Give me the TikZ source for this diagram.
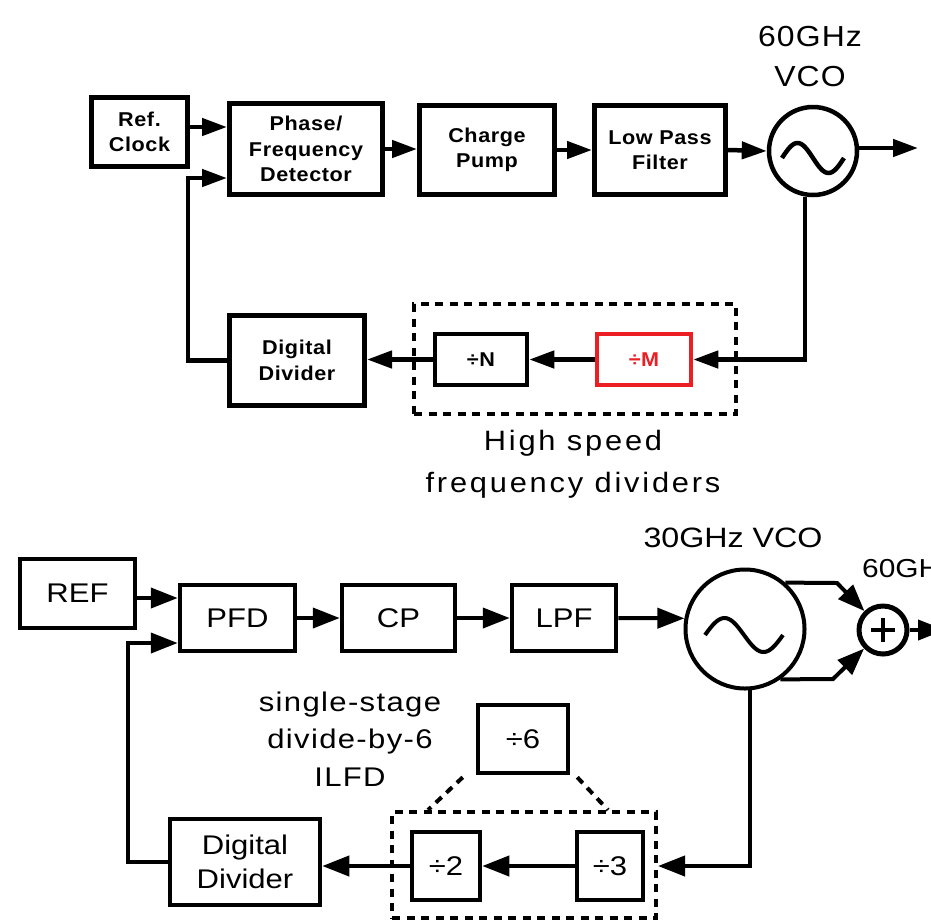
\documentclass[tikz,border=0pt]{standalone}
\usepackage{fontspec}
\setmainfont{Liberation Sans}
\newfontfamily\tfont[FakeStretch=1.08,LetterSpace=3]{Liberation Sans}
\newfontfamily\lfont[FakeStretch=1.1,LetterSpace=10]{Liberation Sans}
\newfontfamily\vfont[FakeStretch=1.1,LetterSpace=4]{Liberation Sans}
\newfontfamily\bfont[FakeStretch=1.15]{Liberation Sans}
\newfontfamily\sfont[FakeStretch=1.15,LetterSpace=5]{Liberation Sans}
\usetikzlibrary{arrows.meta,calc}
\definecolor{dred}{RGB}{235,30,35}
\begin{document}
\begin{tikzpicture}[x=1pt,y=-1pt,
  tbox/.style={draw, line width=5pt, inner sep=0pt, align=center,
    font=\tfont\bfseries\fontsize{20}{25.5}\selectfont},
  bbox/.style={draw, line width=4.5pt, inner sep=0pt, align=center,
    font=\bfont\fontsize{27}{34}\selectfont},
  osc/.style={draw, circle, inner sep=0pt},
  tline/.style={line width=4.5pt},
  bline/.style={line width=4pt},
  tarr/.style={tline, -{Triangle[length=25pt,width=17pt]}},
  barr/.style={bline, -{Triangle[length=27pt,width=20pt]}},
  dbox/.style={draw, line width=4.5pt, dash pattern=on 8pt off 6.5pt},
  dlink/.style={line width=4pt, dash pattern=on 8pt off 6.5pt}
]
\useasboundingbox (0,0) rectangle (931,922);
\clip (0,0) rectangle (931,922);

% ---------------- top PLL ----------------
\node[tbox, minimum width=96pt, minimum height=69pt] (ref) at (139.5,132) {Ref.\\Clock};
\node[tbox, minimum width=153pt, minimum height=91pt] (pfd) at (306,149) {Phase/\\Frequency\\Detector};
\node[tbox, minimum width=135pt, minimum height=89pt] (cp) at (487,150) {Charge\\Pump};
\node[tbox, minimum width=131pt, minimum height=89pt] (lpf) at (660,150) {Low Pass\\Filter};
\node[osc, line width=4.5pt, minimum size=88pt] (vco) at (813,151) {};
\draw[line width=4.5pt] plot[domain=-1:1, samples=50] ({813+31*\x}, {158+15*sin(180*\x)});
\node[font=\vfont\fontsize{29}{36}\selectfont, anchor=base] (vlab1) at (810,46) {60GHz};
\node[font=\vfont\fontsize{29}{36}\selectfont, anchor=base] (vlab2) at (810,86) {VCO};

\node[tbox, minimum width=135pt, minimum height=90pt] (dd) at (297,360.5) {Digital\\Divider};
\node[dbox, minimum width=322pt, minimum height=110pt] (hs) at (575,359) {};
\node[tbox, line width=4.5pt, minimum width=92pt, minimum height=51pt, font=\tfont\bfseries\fontsize{20}{22}\selectfont] (dN) at (481,359.5) {÷N};
\node[tbox, draw=dred, text=dred, line width=4.5pt, minimum width=94pt, minimum height=51pt, font=\tfont\bfseries\fontsize{20}{22}\selectfont] (dM) at (644,359.5) {÷M};
\node[font=\lfont\fontsize{28}{34}\selectfont, anchor=base] (hlab1) at (573,450) {High speed};
\node[font=\lfont\fontsize{28}{34}\selectfont, anchor=base] (hlab2) at (573,492) {frequency dividers};

\coordinate (r1) at (0,127);
\coordinate (fb1) at (188,178);
\coordinate (out1) at (918,148);
\draw[tarr] (ref.east |- r1) -- (pfd.west |- r1);
\draw[tarr] (pfd.east) -- (cp.west |- pfd.east);
\draw[tarr] (cp.east) -- (lpf.west);
\draw[tarr] (lpf.east) -- (vco.west);
\draw[tarr] (vco.east |- out1) -- (out1);
\draw[tarr] (vco.260) -- (vco.260 |- dM.east) -- (dM.east);
\draw[tarr] (dM.west) -- (dN.east);
\draw[tarr] (dN.west) -- (dd.east |- dN.west);
\draw[tarr] (dd.west) -| (fb1) -- (pfd.west |- fb1);

% ---------------- bottom PLL ----------------
\node[bbox, minimum width=115pt, minimum height=69pt] (ref2) at (77.5,593.5) {REF};
\node[bbox, minimum width=115pt, minimum height=66pt] (pfd2) at (237.5,618) {PFD};
\node[bbox, minimum width=113pt, minimum height=66pt] (cp2) at (398.5,618) {CP};
\node[bbox, minimum width=104pt, minimum height=66pt] (lpf2) at (564,618) {LPF};
\node[osc, line width=4pt, minimum size=119pt] (vco2) at (745,629) {};
\draw[line width=4pt] plot[domain=-1:1, samples=50] ({744+39*\x}, {635+17*sin(180*\x)});
\node[font=\bfont\fontsize{28}{34}\selectfont] (vlab3) at (733,538) {30GHz VCO};
\node[osc, line width=5pt, minimum size=48pt] (sum) at (883,630) {};
\draw[line width=4.5pt] ($(sum.center)+(-12,0)$) -- ($(sum.center)+(12,0)$);
\draw[line width=4.5pt] ($(sum.center)+(0,-12)$) -- ($(sum.center)+(0,12)$);
\node[font=\bfont\fontsize{26}{30}\selectfont, anchor=west, inner sep=0pt] (olab) at (862,569) {60GHz};

\node[bbox, minimum width=150pt, minimum height=86pt] (dd2) at (245,862) {Digital\\Divider};
\node[bbox, minimum width=68pt, minimum height=68pt] (d2) at (446,866) {÷2};
\node[bbox, minimum width=66pt, minimum height=68pt] (d3) at (610,866) {÷3};
\node[bbox, minimum width=90pt, minimum height=68pt] (d6) at (523,739) {÷6};
\node[dbox, line width=4pt, minimum width=264pt, minimum height=106pt] (db2) at (524,865) {};
\node[font=\sfont\fontsize{27}{37.5}\selectfont, align=center] (ilfd) at (350,739) {single-stage\\divide-by-6\\ILFD};
\draw[dlink] ($(d6.south west)+(-13,2)$) -- ($(db2.north west)+(38,0)$);
\draw[dlink] ($(d6.south east)+(7,2)$) -- ($(db2.north east)+(-50,0)$);

\coordinate (r2) at (0,598);
\coordinate (fb2) at (128,643);
\coordinate (t1) at (837,583);
\coordinate (b1) at (833,679);
\coordinate (out2) at (945,630);
\draw[barr] (ref2.east |- r2) -- (pfd2.west |- r2);
\draw[barr] (pfd2.east) -- (cp2.west);
\draw[barr] (cp2.east) -- (lpf2.west);
\draw[barr] (lpf2.east) -- (vco2.170);
\draw[barr] (vco2.49) -- (t1) -- (sum);
\draw[barr] (vco2.-55) -- (b1) -- (sum);
\draw[barr] (sum.east) -- (out2);
\draw[barr] (vco2.-85) |- (db2.east |- d3.east);
\draw[barr] (d3.west) -- (d2.east);
\draw[barr] (d2.west) -- (dd2.east |- d2.west);
\draw[barr] (dd2.west) -| (fb2) -- (pfd2.west |- fb2);
\end{tikzpicture}
\end{document}
